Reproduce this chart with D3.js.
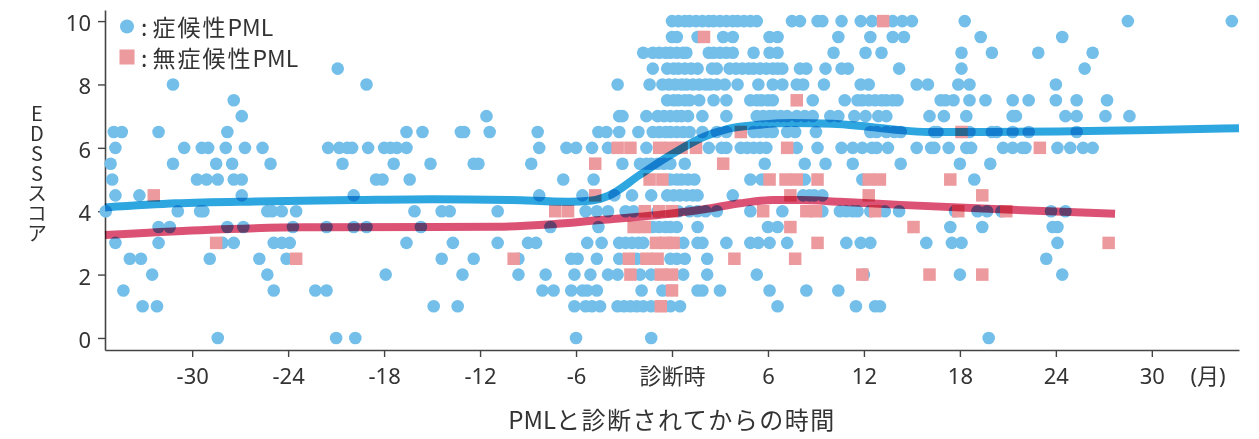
<!DOCTYPE html>
<html><head><meta charset="utf-8">
<script src="https://cdn.jsdelivr.net/npm/d3@7"></script>
<style>
html,body{margin:0;padding:0;background:#fff;}
svg{display:block;}
text{font-family:"Noto Sans","Noto Sans CJK JP",sans-serif;fill:#333;}
</style></head>
<body>
<svg id="chart" width="1259" height="439"></svg>
<script>
// ---- data (months from diagnosis, grouped by EDSS score) ----
const symptomaticByScore = [
  [10,  [0,0.4,0.8,1.1,1.5,1.9,2.3,2.6,3,3.4,3.8,4.1,4.5,4.9,5.3,7.5,8,9.1,9.4,10.6,11.8,12.5,13.8,14.4,15,18.3,28.5,35]],
  [9.5, [0,0.3,1.6,3.2,3.8,6.1,6.6,10.4,12.4,13.8,14.5,19.3,24.4]],
  [9,   [-1.8,-1.2,-0.8,-0.4,-0.1,0.3,0.7,0.9,2.3,2.6,3,3.4,3.8,5.1,6.1,6.6,10.1,12.1,13.1,18.1,20,22.9,26.3]],
  [8.5, [-20.9,-1.2,-0.3,0.1,0.4,0.8,1.2,1.6,2.5,2.8,3.6,4,4.4,4.8,5.1,5.5,5.9,6.3,6.6,6.9,8,8.4,9.6,10.6,11,14.2,18.1,25.8]],
  [8,   [-31.2,-19.1,-3.4,-1.4,-0.6,-0.2,0.2,0.6,0.9,1.3,1.7,2.1,2.4,2.8,3.3,4.1,5.4,6.3,6.9,7.8,8.2,9.5,11.8,12.3,15.3,16,17.9,18.6,24]],
  [7.5, [-27.4,-0.3,0.1,0.4,0.8,1.1,1.7,2.6,3.4,4.9,5.3,5.6,6,6.3,8.8,10.8,11.6,11.9,12.3,12.7,13.1,13.4,13.8,14.1,16.8,17.1,17.6,18.6,19.6,21.3,22.3,24,25.3,27.2]],
  [7,   [-26.9,-11.6,-3.3,-3.1,-1.6,-0.9,-0.5,-0.1,0.3,0.6,1,1.9,3.4,5.3,5.7,6.1,6.4,6.8,7.2,7.8,8.3,8.8,9.9,10.4,11.4,12.1,12.9,13.4,16.1,17,18.4,21.3,21.5,24.6,25.3,27.1,28.6]],
  [6.5, [-34.9,-34.4,-32.1,-27.8,-16.6,-15.6,-13.2,-13,-11.4,-8.4,-4.6,-4.1,-3.3,-2.1,-1.2,-0.8,-0.4,-0.1,0.3,0.7,1.1,1.9,2.8,3.4,5.1,5.5,5.9,6.3,7.2,7.7,9,12.4,12.8,13.4,13.9,14.3,16.4,16.6,18.6,20,20.3,21.3,22.3,25.3]],
  [6,   [-34.8,-30.5,-29.4,-29,-27.9,-26.7,-25.6,-21.5,-20.8,-20.3,-20,-19,-18,-17.6,-17.2,-16.6,-8.3,-6.6,-6,-5,-4,-1.6,2.3,3.1,3.4,4.3,4.7,5.1,5.5,5.9,7.8,9.1,10.6,11.3,11.9,12.5,12.8,13.5,15.3,16.2,16.4,17.3,18.4,18.7,20.7,21.3,21.9,22.1,24.1,24.9,25.7,26.3]],
  [5.5, [-35.1,-31.2,-28.5,-27.5,-25.1,-20.6,-17.4,-15.1,-12.4,-12.1,-8.8,-3.1,-2,-1.6,-1.3,-0.9,-0.5,-0.1,0.8,5.8,8.3,9.6,11.3,14.3,18,19.9]],
  [5,   [-35,-29.7,-29.1,-28.4,-27.4,-26.9,-18.5,-18.1,-16.4,-6.8,-4.9,-0.1,0.3,0.6,1,1.4,4.9,5.6,8.3,11.9,18.9]],
  [4.5, [-34.8,-33.3,-26.9,-19.9,-8.3,-5.6,-3.6,-2.5,-1.3,-0.3,0.1,0.5,0.9,1.3,1.6,3.8,8.2,8.6,8.9,9.4]],
  [4,   [-35.4,-30.9,-29.5,-29.3,-25.3,-25,-24.4,-23.5,-16.1,-14.4,-13.9,-10.9,-5.4,-4.7,-4,-2.9,-2.4,-0.9,0.4,1.1,1.6,2.1,2.8,4.9,6.9,9.4,10.5,10.9,11.3,11.6,12.4,13.3,14.2,17.7,19.1,19.7,20.6,23.7,24.6]],
  [3.5, [-32.1,-31.4,-27.8,-26.8,-23.7,-21.6,-19.9,-19.1,-15.7,-7.6,-4.6,-1.2,-0.8,-0.4,-0.1,0.3,1.6,6,6.6,17.4,19.4,23.8,24.1]],
  [3,   [-34.8,-32.1,-28.1,-27.4,-24.9,-24.4,-23.9,-16.6,-13.7,-10.9,-9,-8.5,-5.3,-4.4,-3.3,-2.9,-2.5,-2.1,-1.8,0.7,1.6,1.9,3.4,4.9,5.4,6.1,7.2,10.9,11.8,12.4,15.9,17.5,18.1,24.1]],
  [2.5, [-33.9,-33.2,-28.9,-25.8,-24.1,-14.4,-12.4,-9.6,-6.3,-5.9,-4.7,-3.3,-2.2,-0.1,0.3,0.8,2.2,23.4]],
  [2,   [-32.5,-25.3,-17.9,-13.1,-9.6,-7.9,-6.1,-5.1,-4,-3.4,-2,-1.3,0.7,2.2,5.3,12,18,24.4]],
  [1.5, [-34.3,-24.9,-22.3,-21.6,-8.1,-7.4,-6.3,-5.6,-5.3,-4.7,-1.9,-0.6,1.6,1.9,3,6.1,8.4,10.4]],
  [1,   [-33.1,-32.2,-14.9,-13.4,-6.1,-5.4,-5,-4.5,-3.4,-3,-2.6,-2.2,-1.8,-1.3,-0.1,0.5,6.6,11.5,12.7,13]],
  [0,   [-28.4,-21,-19.8,-6,-1.3,19.8]]
];
const asymptomaticByScore = [
  [10,  [13.2]],
  [9.5, [2]],
  [7.5, [7.8]],
  [6.5, [4.3,18.1]],
  [6,   [-3.4,-2.6,-0.8,-0.1,0.6,1.5,7.2,23]],
  [5.5, [-4.8,3.2]],
  [5,   [-1.4,-0.6,6.1,7.1,7.8,9.1,12.3,13,17.4]],
  [4.5, [-32.4,-4.8,7.4,12.3,19.4]],
  [4,   [-7.3,-6.5,-1.7,-0.8,0,5.7,8.4,9,12.7,17.9,20.9]],
  [3.5, [-2.4,-1.7,7.4,15.1]],
  [3,   [-28.5,-1,-0.4,0.1,9.1,27.3]],
  [2.5, [-23.5,-9.9,-2.7,-1.6,-0.9,3.9,7.7]],
  [2,   [-2.6,-0.7,0,11.9,16.1,19.4]],
  [1.5, [0]],
  [1,   [-0.7]]
];
const symptomaticTrend = [[-35.45,4.12],[-31,4.25],[-26,4.31],[-20,4.35],[-15,4.38],[-10,4.35],[-6.5,4.3],[-5,4.34],[-4,4.48],[-2,5.15],[0,5.8],[2,6.35],[3.5,6.6],[5.3,6.72],[7.5,6.78],[10,6.76],[12,6.68],[14,6.57],[16,6.5],[20,6.5],[25,6.52],[30,6.56],[35.45,6.62]];
const asymptomaticTrend = [[-35.45,3.25],[-29.5,3.4],[-23,3.49],[-15,3.5],[-11,3.51],[-8,3.57],[-4.5,3.72],[0,3.93],[2,4.06],[4.25,4.25],[6.3,4.35],[8,4.35],[10.5,4.3],[14.25,4.2],[20.5,4.06],[27.7,3.92]];
const xTickValues = [-30,-24,-18,-12,-6,0,6,12,18,24,30];
const xTickLabels = ["-30","-24","-18","-12","-6","診断時","6","12","18","24","30"];
const yTickValues = [0,2,4,6,8,10];
const legendLabels = ["症候性PML","無症候性PML"];
const yTitle = "EDSSスコア";
const xTitle = "PMLと診断されてからの時間";
const unitLabel = "(月)";

// ---- drawing ----
const blue = "#73bfea", pink = "#ec9a9e";
const lineBlue = "#2ea7e0", lineRed = "#dc5274";
const svg = d3.select("#chart");
const x = d3.scaleLinear().domain([-35.45, 35.45]).range([105, 1239]);
const y = d3.scaleLinear().domain([-0.38, 10.35]).range([350, 10]);

const flat = rows => rows.flatMap(([s, ms]) => ms.map(m => ({m, s})));
// split a label into Latin / CJK runs so spacing can differ
const runs = t => t.match(/[A-Za-z]+|[^A-Za-z]+/g);
function spacedText(sel, t, cjkSpacing) {
  runs(t).forEach(r => {
    const ts = sel.append("tspan").text(r);
    if (!/^[A-Za-z]+$/.test(r)) ts.style("letter-spacing", cjkSpacing + "px");
  });
}

// axes
const gx = svg.append("g").attr("transform", "translate(0,350)")
  .call(d3.axisBottom(x).tickValues(xTickValues).tickSize(7).tickSizeOuter(0)
    .tickFormat((d, i) => xTickLabels[i]));
const gy = svg.append("g").attr("transform", "translate(105,0)")
  .call(d3.axisLeft(y).tickValues(yTickValues).tickSize(7).tickSizeOuter(0));
[gx, gy].forEach(g => {
  g.select(".domain").attr("stroke", "#444").attr("stroke-width", 1.6);
  g.selectAll(".tick line").attr("stroke", "#444").attr("stroke-width", 1.4);
  g.selectAll("text").attr("fill", "#333").style("font-size", "22px")
    .attr("font-family", null);
});
gx.selectAll("text").attr("y", 34).attr("dy", 0);
gy.selectAll("text").attr("x", -14).attr("dy", 9.5);

svg.append("text").attr("x", 1208).attr("y", 384).attr("text-anchor", "middle")
  .style("font-size", "22px").text(unitLabel);

// points
svg.append("g").selectAll("circle").data(flat(symptomaticByScore)).join("circle")
  .attr("cx", d => x(d.m)).attr("cy", d => y(d.s)).attr("r", 6.3).attr("fill", blue);
const sq = 12.5;
svg.append("g").selectAll("rect").data(flat(asymptomaticByScore)).join("rect")
  .attr("x", d => x(d.m) - sq / 2).attr("y", d => y(d.s) - sq / 2)
  .attr("width", sq).attr("height", sq).attr("fill", pink);

// trend lines
const line = d3.line().x(d => x(d[0])).y(d => y(d[1])).curve(d3.curveMonotoneX);
svg.append("path").datum(symptomaticTrend).attr("d", line)
  .attr("fill", "none").attr("stroke", lineBlue).attr("stroke-width", 8)
  .style("mix-blend-mode", "multiply");
svg.append("path").datum(asymptomaticTrend).attr("d", line)
  .attr("fill", "none").attr("stroke", lineRed).attr("stroke-width", 8)
  .style("mix-blend-mode", "multiply");

// legend
svg.append("circle").attr("cx", 127).attr("cy", 26.5).attr("r", 7).attr("fill", blue);
svg.append("rect").attr("x", 119.5).attr("y", 49.5).attr("width", 15).attr("height", 15).attr("fill", pink);
legendLabels.forEach((t, i) => {
  const tx = svg.append("text").attr("x", 141).attr("y", 36 + i * 31)
    .style("font-family", "'Noto Sans CJK JP',sans-serif").style("font-size", "23px");
  tx.append("tspan").text(":");
  const rest = tx.append("tspan").attr("dx", 5);
  spacedText(rest, t, 2);
});

// y title (vertical, upright characters)
svg.append("text").attr("x", 37).attr("y", 173).attr("text-anchor", "middle")
  .style("font-family", "'Noto Sans CJK JP',sans-serif").style("font-size", "20px")
  .style("writing-mode", "vertical-rl").style("text-orientation", "upright")
  .text(yTitle);

// x title
const xt = svg.append("text").attr("x", 672).attr("y", 429).attr("text-anchor", "middle")
  .style("font-family", "'Noto Sans CJK JP',sans-serif").style("font-size", "24px");
spacedText(xt, xTitle, 1.5);
</script>
</body></html>
